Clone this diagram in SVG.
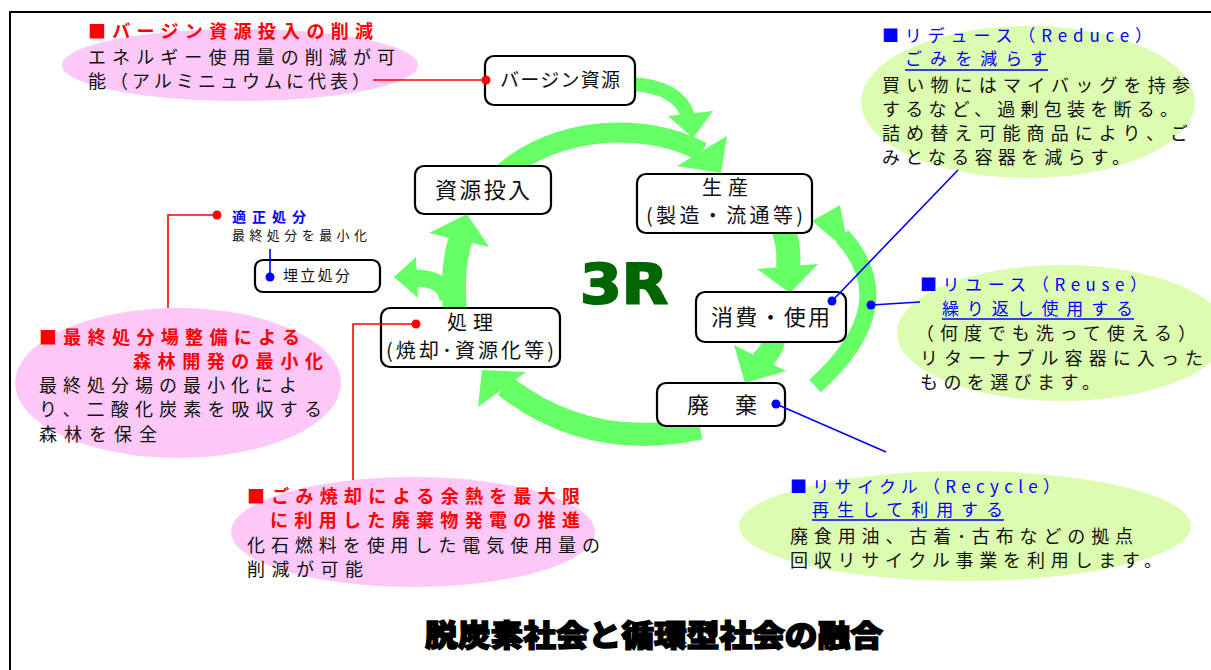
<svg xmlns="http://www.w3.org/2000/svg" width="1211" height="670" viewBox="0 0 1211 670">
<defs>
<style>
text{font-family:"Noto Sans CJK JP","Noto Sans CJK SC",sans-serif;}
.box{fill:#fff;stroke:#000;stroke-width:2.2;}
.nt{fill:#111;}
.ct{font-size:18px;fill:#111;}
.rt{font-size:18px;fill:#f00;font-weight:bold;}
.bt{font-size:17px;fill:#00f;}
.pink{fill:#fcc8f8;}
.lg{fill:#dcfcb0;}
.band{fill:none;stroke:#66ff66;}
.head{fill:#66ff66;}
.rl{fill:none;stroke:#f00;stroke-width:1.6;}
.bl{fill:none;stroke:#00f;stroke-width:1.6;}
.rd{fill:#f00;}
.bd{fill:#00f;}
</style>
</defs>
<rect width="1211" height="670" fill="#fff"/>
<rect x="10" y="12" width="1230" height="700" fill="none" stroke="#000" stroke-width="2"/>

<!-- callout backgrounds -->
<g id="callout-virgin"><ellipse class="pink" cx="240" cy="65" rx="178" ry="36"/></g>
<g id="callout-reduce"><ellipse class="lg" cx="1028" cy="102" rx="167" ry="76"/></g>
<g id="callout-reuse"><ellipse class="lg" cx="1062" cy="333" rx="165" ry="68"/></g>
<g id="callout-recycle"><ellipse class="lg" cx="965" cy="526" rx="226" ry="55"/></g>
<g id="callout-landfill"><ellipse class="pink" cx="178" cy="383" rx="163" ry="75"/></g>
<g id="callout-incineration"><ellipse class="pink" cx="413" cy="532" rx="182" ry="55"/></g>

<!-- green cycle arrows -->
<g id="cycle-arrows">
<path class="band" stroke-width="14" d="M630 84 Q678 86 688 116"/>
<polygon class="head" points="668,116 713,111 693,138"/>
<path class="band" stroke-width="20" d="M500 176 C556 124 648 122 702 152"/>
<polygon class="head" points="727,136 677,166 721,173"/>
<path class="band" stroke-width="24" d="M783 228 Q790 248 788 268"/>
<polygon class="head" points="757,269 818,264 790,293"/>
<path class="band" stroke-width="22" d="M775 338 Q772 352 760 362"/>
<polygon class="head" points="734,345 786,371 745,383"/>
<path class="band" stroke-width="17" d="M815 386 Q905 305 842 236"/>
<polygon class="head" points="812,221 840,205 849,252"/>
<path class="band" stroke-width="23" d="M505 386 Q590 452 700 428"/>
<polygon class="head" points="478,407 526,372 482,370"/>
<path class="band" stroke-width="24" d="M455 312 Q451 268 461 238"/>
<polygon class="head" points="429,233 489,247 467,214"/>
<path class="band" stroke-width="17" d="M448 300 Q446 278 414 278"/>
<polygon class="head" points="416,257 418,298 394,277"/>
</g>

<g id="label-3r"><text x="580" y="303" style="font-family:'DejaVu Sans',sans-serif;font-size:56px;font-weight:bold" fill="#006600" stroke="#006600" stroke-width="2" textLength="88" lengthAdjust="spacingAndGlyphs">3R</text></g>

<!-- nodes -->
<g id="node-virgin"><rect class="box" x="485" y="56" width="150" height="49" rx="9"/><text class="nt" x="500" y="87" style="font-size:19px" textLength="120">バージン資源</text></g>
<g id="node-input"><rect class="box" x="415" y="166" width="136" height="48" rx="9"/><text class="nt" x="435" y="198" style="font-size:22px" textLength="95">資源投入</text></g>
<g id="node-production"><rect class="box" x="637" y="174" width="175" height="59" rx="9"/><text class="nt" x="702" y="195" style="font-size:20px" textLength="46">生産</text><text class="nt" x="646" y="223" style="font-size:20px" textLength="157">(製造・流通等)</text></g>
<g id="node-consume"><rect class="box" x="696" y="292" width="150" height="50" rx="9"/><text class="nt" x="711" y="325" style="font-size:22px" textLength="119">消費・使用</text></g>
<g id="node-disposal"><rect class="box" x="657" y="383" width="128" height="43" rx="9"/><text class="nt" x="687" y="413" style="font-size:22px" textLength="70">廃　棄</text></g>
<g id="node-treatment"><rect class="box" x="381" y="308" width="179" height="59" rx="9"/><text class="nt" x="447" y="330" style="font-size:20px" textLength="46">処理</text><text class="nt" x="386" y="358" style="font-size:20px" textLength="168">(焼却･資源化等)</text></g>
<g id="node-landfill"><rect class="box" x="255" y="260" width="125" height="32" rx="8"/><text class="nt" x="283" y="281" style="font-size:15px" textLength="67">埋立処分</text></g>

<!-- connectors -->
<g id="connectors">
<path class="rl" d="M373 80 H486"/><circle class="rd" cx="486" cy="80" r="4.5"/>
<path class="rl" d="M217 215 H168 V308"/><circle class="rd" cx="217" cy="215" r="4.5"/>
<path class="rl" d="M416 324 H353 V480"/><circle class="rd" cx="416" cy="324" r="4.5"/>
<path class="bl" d="M832 301 L958 170"/><circle class="bd" cx="832" cy="301" r="4.5"/>
<path class="bl" d="M871 305 L920 302"/><circle class="bd" cx="871" cy="305" r="4.5"/>
<path class="bl" d="M776 404 L886 452"/><circle class="bd" cx="776" cy="404" r="4.5"/>
<path class="bl" d="M270 249 V277"/><circle class="bd" cx="270" cy="277" r="4.5"/>
</g>

<!-- callout texts -->
<g id="text-virgin">
<text class="rt" x="88" y="38" textLength="285">■バージン資源投入の削減</text>
<text class="ct" x="88" y="64" textLength="307">エネルギー使用量の削減が可</text>
<text class="ct" x="88" y="88" textLength="282">能（アルミニュウムに代表）</text>
</g>
<g id="text-reduce">
<text class="bt" x="882" y="42" textLength="270">■リデュース（Reduce）</text>
<text class="bt" x="905" y="65" textLength="142">ごみを減らす</text>
<path d="M905 70 H1048" stroke="#00f" stroke-width="1.5"/>
<text class="ct" x="882" y="92" textLength="308">買い物にはマイバッグを持参</text>
<text class="ct" x="882" y="116" textLength="296">するなど、過剰包装を断る。</text>
<text class="ct" x="882" y="140" textLength="306">詰め替え可能商品により、ご</text>
<text class="ct" x="882" y="164" textLength="248">みとなる容器を減らす。</text>
</g>
<g id="text-reuse">
<text class="bt" x="920" y="291" textLength="227">■リユース（Reuse）</text>
<text class="bt" x="942" y="315" textLength="191">繰り返し使用する</text>
<path d="M942 319 H1134" stroke="#00f" stroke-width="1.5"/>
<text class="ct" x="916" y="340" textLength="280">（何度でも洗って使える）</text>
<text class="ct" x="920" y="365" textLength="283">リターナブル容器に入った</text>
<text class="ct" x="920" y="389" textLength="180">ものを選びます。</text>
</g>
<g id="text-recycle">
<text class="bt" x="790" y="493" textLength="270">■リサイクル（Recycle）</text>
<text class="bt" x="812" y="516" textLength="191">再生して利用する</text>
<path d="M812 520 H1004" stroke="#00f" stroke-width="1.5"/>
<text class="ct" x="790" y="543" textLength="343">廃食用油、古着･古布などの拠点</text>
<text class="ct" x="790" y="567" textLength="372">回収リサイクル事業を利用します。</text>
</g>
<g id="text-landfill">
<text x="232" y="222" style="font-size:14px;font-weight:bold" fill="#00f" textLength="74">適正処分</text>
<text x="232" y="240" style="font-size:13px" fill="#111" textLength="135">最終処分を最小化</text>
<text class="rt" x="39" y="344" textLength="261">■最終処分場整備による</text>
<text class="rt" x="133" y="368" textLength="190">森林開発の最小化</text>
<text class="ct" x="39" y="392" textLength="258">最終処分場の最小化によ</text>
<text class="ct" x="39" y="416" textLength="283">り、二酸化炭素を吸収する</text>
<text class="ct" x="39" y="441" textLength="118">森林を保全</text>
</g>
<g id="text-incineration">
<text class="rt" x="247" y="503" textLength="333">■ごみ焼却による余熱を最大限</text>
<text class="rt" x="270" y="527" textLength="310">に利用した廃棄物発電の推進</text>
<text class="ct" x="247" y="552" textLength="353">化石燃料を使用した電気使用量の</text>
<text class="ct" x="247" y="576" textLength="116">削減が可能</text>
</g>
<g id="title">
<text x="425" y="646" style="font-size:30px;font-weight:900" fill="#000" stroke="#000" stroke-width="1.5" textLength="458" lengthAdjust="spacingAndGlyphs">脱炭素社会と循環型社会の融合</text>
</g>
</svg>
